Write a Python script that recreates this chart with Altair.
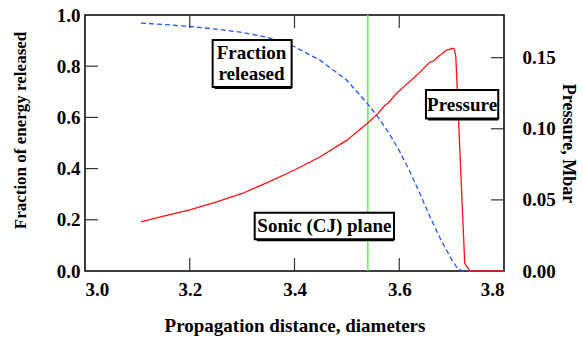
import altair as alt
import pandas as pd

# Computed profiles behind the detonation front
frac_x = [3.107, 3.15, 3.2, 3.25, 3.3, 3.35, 3.4, 3.45, 3.5, 3.54, 3.56, 3.58,
          3.6, 3.62, 3.64, 3.66, 3.68, 3.70, 3.71, 3.72, 3.8]
frac_released = [0.968, 0.963, 0.955, 0.945, 0.932, 0.912, 0.876, 0.822, 0.745,
                 0.652, 0.600, 0.540, 0.470, 0.390, 0.300, 0.205, 0.120, 0.045,
                 0.014, 0.0, 0.0]

pres_x = [3.107, 3.15, 3.2, 3.25, 3.3, 3.35, 3.4, 3.45, 3.5, 3.54, 3.56, 3.57,
          3.58, 3.595, 3.61, 3.627, 3.64, 3.658, 3.665, 3.675, 3.68, 3.69,
          3.695, 3.702, 3.705, 3.708, 3.725, 3.735, 3.8]
pressure_mbar = [0.0345, 0.0385, 0.0430, 0.0485, 0.0545, 0.0625, 0.0710, 0.0805,
                 0.0920, 0.1040, 0.1110, 0.1155, 0.1185, 0.1250, 0.1300, 0.1355,
                 0.1400, 0.1468, 0.1475, 0.1510, 0.1522, 0.1553, 0.1556, 0.1566,
                 0.1560, 0.1510, 0.0054, 0.0, 0.0]

cj_plane_x = [3.54]

x_tick_vals = [3.2, 3.4, 3.6]
frac_tick_vals = [0.2, 0.4, 0.6, 0.8]
pres_tick_vals = [0.05, 0.10, 0.15]

# Label boxes, in data units
box_x0 = [3.2437, 3.651, 3.324]
box_x1 = [3.3945, 3.789, 3.590]
box_y0 = [0.719, 0.596, 0.124]
box_y1 = [0.902, 0.707, 0.228]

# Label text lines and their anchors
label_text = ["Fraction", "released", "Pressure", "Sonic (CJ) plane"]
label_x = [3.318, 3.318, 3.720, 3.457]
label_y = [0.850, 0.768, 0.650, 0.174]

FONT = "Liberation Serif, Times New Roman, Times, serif"
W, H = 419, 256
TICK = 13

frac_df = pd.DataFrame({"x": frac_x, "frac": frac_released})
pres_df = pd.DataFrame({"x": pres_x, "p": pressure_mbar})
cj_df = pd.DataFrame({"x": cj_plane_x})
xt_df = pd.DataFrame({"x": x_tick_vals})
ft_df = pd.DataFrame({"frac": frac_tick_vals})
pt_df = pd.DataFrame({"p": pres_tick_vals})
box_df = pd.DataFrame({"x0": box_x0, "x1": box_x1, "y0": box_y0, "y1": box_y1})
label_df = pd.DataFrame({"label": label_text, "x": label_x, "y": label_y})

common_axis = dict(domain=False, ticks=False, grid=False,
                   labelFont=FONT, labelFontSize=19, labelFontWeight="bold",
                   labelColor="black", titleFont=FONT, titleFontWeight="bold",
                   titleColor="black")

x_axis = alt.Axis(values=[3.0, 3.2, 3.4, 3.6, 3.8], format=".1f",
                  title="Propagation distance, diameters", titleFontSize=19,
                  labelPadding=9, titlePadding=17, **common_axis)
left_axis = alt.Axis(orient="left", values=[0, 0.2, 0.4, 0.6, 0.8, 1.0], format=".1f",
                     title="Fraction of energy released", titleFontSize=17,
                     labelPadding=5, titlePadding=27, titleY=115, **common_axis)
right_axis = alt.Axis(orient="right", values=[0, 0.05, 0.10, 0.15], format=".2f",
                      title="Pressure, Mbar", titleFontSize=18,
                      labelPadding=18, titlePadding=3, **common_axis)

x_scale = alt.Scale(domain=[3.0, 3.8], nice=False, zero=False)
frac_scale = alt.Scale(domain=[0, 1], nice=False)
pres_scale = alt.Scale(domain=[0, 0.18], nice=False)


def xenc(field="x"):
    return alt.X(field, type="quantitative", scale=x_scale, axis=x_axis)


def yfrac(field="frac"):
    return alt.Y(field, type="quantitative", scale=frac_scale, axis=left_axis)


# Left (fraction) scale: blue dashed profile, CJ plane, frame ticks
frac_line = alt.Chart(frac_df).mark_line(
    color="#2255ff", strokeWidth=1.3, strokeDash=[5, 3]
).encode(x=xenc(), y=yfrac())

cj_rule = alt.Chart(cj_df).mark_rule(color="#70ee66", strokeWidth=1.6).encode(x=xenc())

top_ticks = alt.Chart(xt_df).mark_rule(color="#333333", strokeWidth=1.2).encode(
    x=xenc(), y=alt.value(0), y2=alt.value(TICK))
bottom_ticks = alt.Chart(xt_df).mark_rule(color="#333333", strokeWidth=1.2).encode(
    x=xenc(), y=alt.value(H), y2=alt.value(H - TICK))
left_ticks = alt.Chart(ft_df).mark_rule(color="#333333", strokeWidth=1.2).encode(
    y=yfrac(), x=alt.value(0), x2=alt.value(TICK))

left_group = alt.layer(cj_rule, frac_line, top_ticks, bottom_ticks, left_ticks)

# Right (pressure) scale: red profile and its ticks
pres_y = alt.Y("p", type="quantitative", scale=pres_scale, axis=right_axis)
pres_line = alt.Chart(pres_df).mark_line(color="#ff1010", strokeWidth=1.3).encode(
    x=xenc(), y=pres_y)
right_ticks = alt.Chart(pt_df).mark_rule(color="#333333", strokeWidth=1.2).encode(
    y=pres_y, x=alt.value(W), x2=alt.value(W - TICK))

right_group = alt.layer(pres_line, right_ticks)

# Boxed labels on top of the curves
box_y_enc = alt.Y("y0", type="quantitative", scale=frac_scale, axis=None)
shadow = alt.Chart(box_df).mark_rect(color="black", xOffset=2, yOffset=2).encode(
    x=xenc("x0"), x2=alt.X2("x1"), y=box_y_enc, y2=alt.Y2("y1"))
box = alt.Chart(box_df).mark_rect(fill="white", stroke="black", strokeWidth=2).encode(
    x=xenc("x0"), x2=alt.X2("x1"), y=box_y_enc, y2=alt.Y2("y1"))
label = alt.Chart(label_df).mark_text(
    font=FONT, fontSize=19, fontWeight="bold", color="black",
    align="center", baseline="middle"
).encode(x=xenc("x"), y=alt.Y("y", type="quantitative", scale=frac_scale, axis=None),
         text="label:N")

notes_group = alt.layer(shadow, box, label)

chart = alt.layer(left_group, right_group, notes_group).resolve_scale(
    y="independent"
).properties(
    width=W, height=H,
    autosize=alt.AutoSizeParams(type="none"),
    padding={"left": 85, "top": 15, "right": 79, "bottom": 70},
    background="white",
).configure_view(stroke="black", strokeWidth=1.5)

chart.save("out.html", embed_options={"renderer": "svg", "actions": False})
